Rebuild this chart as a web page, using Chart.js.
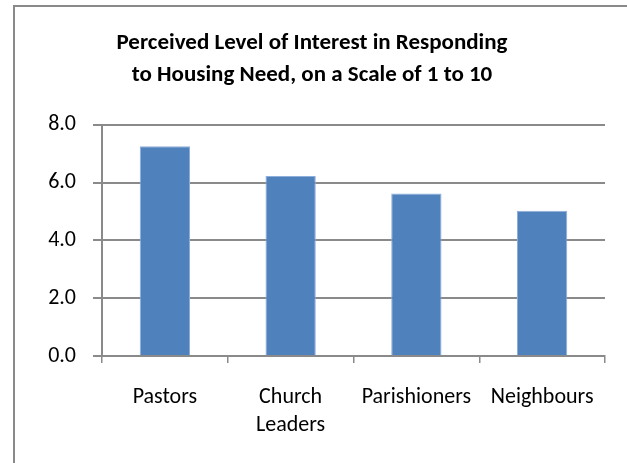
<!DOCTYPE html>
<html>
<head>
<meta charset="utf-8">
<script src="https://cdn.jsdelivr.net/npm/chart.js@4/dist/chart.umd.min.js"></script>
<style>
  html, body { margin: 0; padding: 0; background: #fff; overflow: hidden; }
  #wrap { position: relative; width: 627px; height: 463px; }
  #frame {
    position: absolute; left: 13px; top: 5px; width: 700px; height: 500px;
    border-top: 2px solid #8a8a8a; border-left: 2px solid #8a8a8a;
  }
  #chart { position: absolute; left: 0; top: 0; }
</style>
</head>
<body>
<div id="wrap">
  <div id="frame"></div>
  <canvas id="chart" width="627" height="463"></canvas>
</div>
<script>
// categories and values
const categories = ["Pastors", ["Church", "Leaders"], "Parishioners", "Neighbours"];
const interestScores = [7.26, 6.23, 5.63, 5.03];
const titleLines = ["Perceived Level of Interest in Responding", "to Housing Need, on a Scale of 1 to 10"];

const gridGray = "#8a8a8a";
Chart.defaults.font.family = "Carlito, Calibri, Lato, 'Open Sans', sans-serif";
Chart.defaults.color = "#000";

const ctx = document.getElementById("chart").getContext("2d");
new Chart(ctx, {
  type: "bar",
  data: {
    labels: categories,
    datasets: [{
      data: interestScores,
      backgroundColor: "#4F81BD",
      borderColor: "#8eaedb",
      borderWidth: { left: 1, right: 1, top: 1, bottom: 0 },
      borderSkipped: false,
      barPercentage: 0.4,
      categoryPercentage: 1.0,
    }],
  },
  options: {
    responsive: false,
    animation: false,
    layout: { padding: { left: 19, right: 22, top: 0, bottom: 0 } },
    plugins: {
      legend: { display: false },
      tooltip: { enabled: false },
      title: {
        display: true,
        text: titleLines,
        font: { size: 23, weight: "bold", lineHeight: 1.39 },
        padding: { top: 27, bottom: 34 },
      },
    },
    scales: {
      x: {
        grid: { drawOnChartArea: false, drawTicks: true, tickLength: 7, color: gridGray, lineWidth: 1.5 },
        border: { color: gridGray, width: 2 },
        ticks: { font: { size: 22, lineHeight: 1.25 }, padding: 21, maxRotation: 0, autoSkip: false },
        afterFit: (scale) => { scale.height = 107; },
      },
      y: {
        min: 0,
        max: 8,
        grid: { color: gridGray, lineWidth: 2, tickLength: 9 },
        border: { color: gridGray, width: 2 },
        ticks: {
          stepSize: 2,
          font: { size: 22 },
          padding: 17,
          callback: (v) => v.toFixed(1),
        },
        afterFit: (scale) => { scale.width = 83; },
      },
    },
  },
});
</script>
</body>
</html>
